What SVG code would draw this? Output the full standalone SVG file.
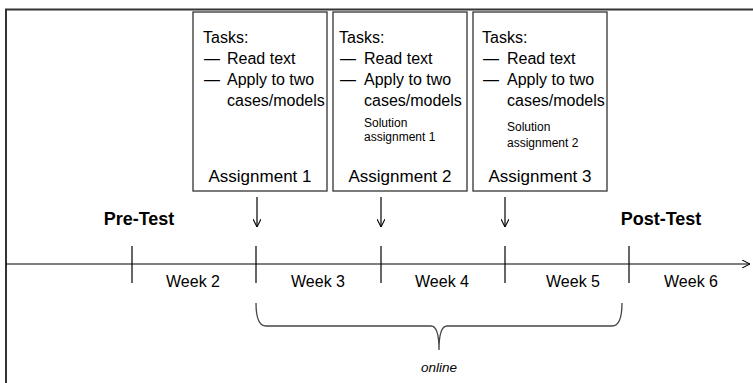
<svg xmlns="http://www.w3.org/2000/svg" width="753" height="383" viewBox="0 0 753 383">
<style>
text{font-family:"Liberation Sans",Arial,sans-serif;fill:#000}
.box{fill:#fff;stroke:#333;stroke-width:1.3}
.t{font-size:16px}
.s{font-size:12px}
.a{font-size:17px;text-anchor:middle}
.w{font-size:16px;text-anchor:middle}
.b{font-size:18px;font-weight:bold;text-anchor:middle}
.ln{stroke:#000;stroke-width:1.2;fill:none}
</style>
<defs>
<marker id="ah" viewBox="0 0 10 10" refX="10" refY="5" markerWidth="8" markerHeight="8" markerUnits="userSpaceOnUse" orient="auto">
<path d="M0,0 L10,5 L0,10" fill="none" stroke="#000" stroke-width="1.3"/>
</marker>
</defs>
<rect width="753" height="383" fill="#fff"/>
<path d="M6,383 L6,9.5 L753,9.5" fill="none" stroke="#333" stroke-width="2"/>
<g id="assignment1">
<rect class="box" x="193" y="12" width="134" height="179"/>
<text class="t" x="203" y="43">Tasks:</text>
<text class="t" x="204" y="64">—</text><text class="t" x="227" y="64">Read text</text>
<text class="t" x="204" y="85">—</text><text class="t" x="227" y="85">Apply to two</text>
<text class="t" x="227" y="106">cases/models</text>
<text class="a" x="260" y="182">Assignment 1</text>
</g>
<g id="assignment2">
<rect class="box" x="333" y="12" width="134" height="179"/>
<text class="t" x="339" y="43">Tasks:</text>
<text class="t" x="340" y="64">—</text><text class="t" x="364" y="64">Read text</text>
<text class="t" x="340" y="85">—</text><text class="t" x="364" y="85">Apply to two</text>
<text class="t" x="364" y="106">cases/models</text>
<text class="s" x="364" y="127">Solution</text>
<text class="s" x="364" y="141">assignment 1</text>
<text class="a" x="400" y="182">Assignment 2</text>
</g>
<g id="assignment3">
<rect class="box" x="473" y="12" width="134" height="179"/>
<text class="t" x="482" y="43">Tasks:</text>
<text class="t" x="483" y="64">—</text><text class="t" x="507" y="64">Read text</text>
<text class="t" x="483" y="85">—</text><text class="t" x="507" y="85">Apply to two</text>
<text class="t" x="507" y="106">cases/models</text>
<text class="s" x="507" y="131">Solution</text>
<text class="s" x="507" y="147">assignment 2</text>
<text class="a" x="540" y="182">Assignment 3</text>
</g>
<g id="pretest"><text class="b" x="139" y="225">Pre-Test</text></g>
<g id="posttest"><text class="b" x="661" y="225">Post-Test</text></g>
<g id="weeks">
<text class="w" x="193" y="287">Week 2</text>
<text class="w" x="318" y="287">Week 3</text>
<text class="w" x="442" y="287">Week 4</text>
<text class="w" x="573" y="287">Week 5</text>
<text class="w" x="691" y="287">Week 6</text>
</g>
<g id="connectors">
<line class="ln" x1="6" y1="264" x2="750" y2="264" marker-end="url(#ah)"/>
<line class="ln" x1="132" y1="246" x2="132" y2="283"/>
<line class="ln" x1="256" y1="246" x2="256" y2="283"/>
<line class="ln" x1="381" y1="246" x2="381" y2="283"/>
<line class="ln" x1="505" y1="246" x2="505" y2="283"/>
<line class="ln" x1="629" y1="246" x2="629" y2="283"/>
<line class="ln" x1="257" y1="197" x2="257" y2="227" marker-end="url(#ah)"/>
<line class="ln" x1="381" y1="197" x2="381" y2="227" marker-end="url(#ah)"/>
<line class="ln" x1="505" y1="197" x2="505" y2="227" marker-end="url(#ah)"/>
<path d="M256,303 Q256,326 266,326 L431,326 Q439,326 439,350 M622,303 Q622,326 612,326 L447,326 Q439,326 439,350" fill="none" stroke="#444" stroke-width="1.3"/>
</g>
<g id="online"><text x="439" y="372" font-size="13.5" font-style="italic" text-anchor="middle">online</text></g>
</svg>
